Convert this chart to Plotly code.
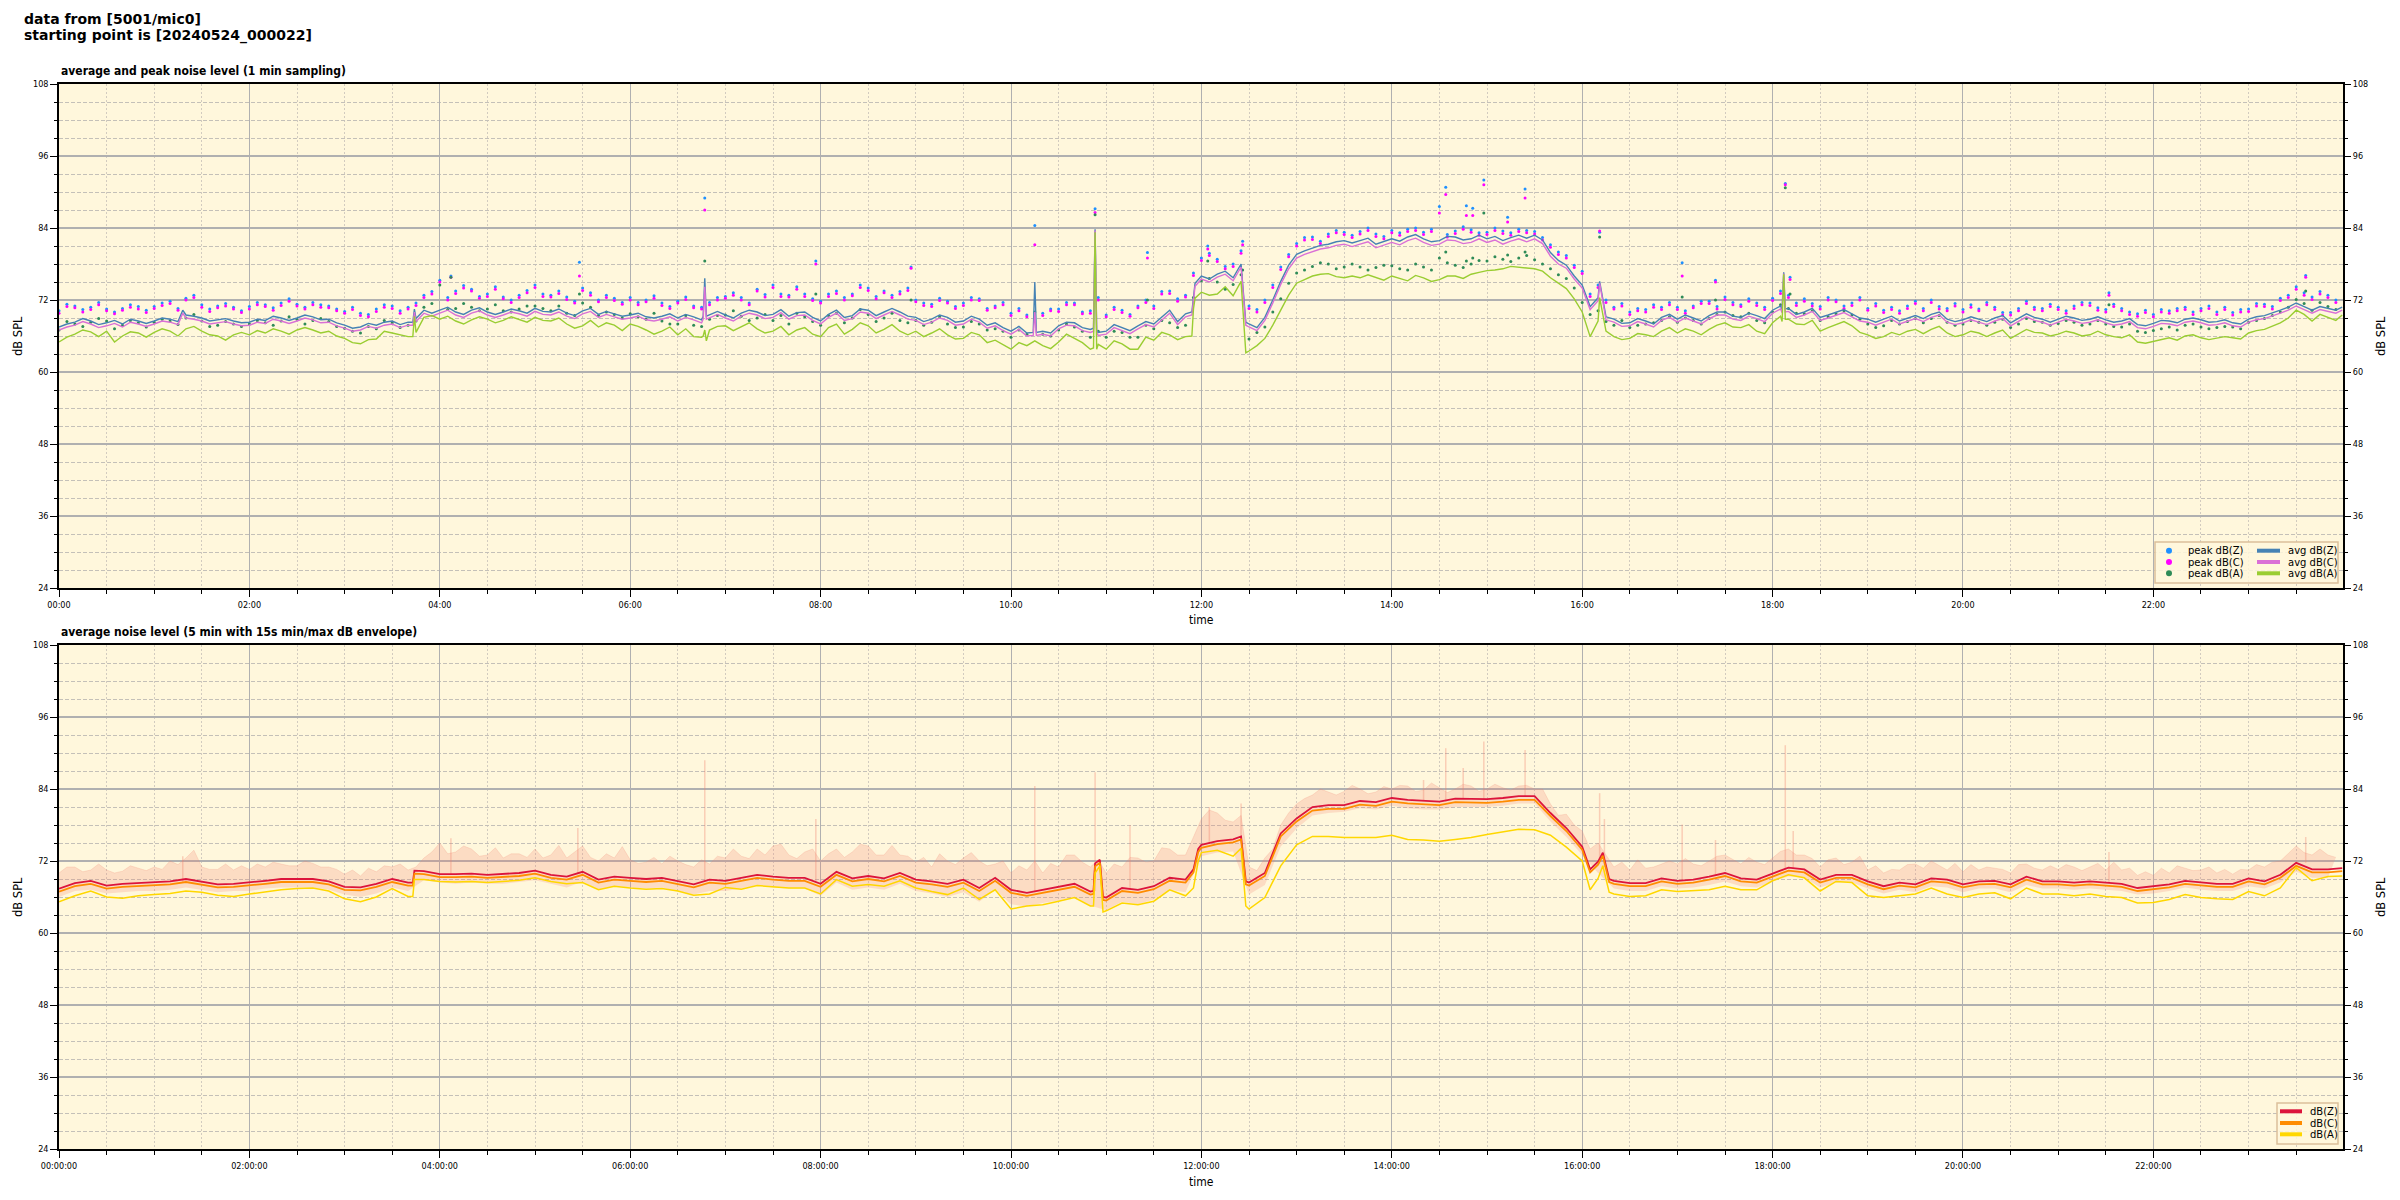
import plotly.graph_objects as go
from datetime import datetime, timedelta

T0 = datetime(2024, 5, 24)
STEP = 10  # minutes between the main readings; *_mid arrays sit 5 min after each

# ---------------- top panel: 1 min sampling (one row per hour) ----------------
avg_z = [
    67.5, 68.3, 68.5, 68.2, 68.0, 68.5,
    68.5, 68.8, 69.5, 69.0, 68.7, 68.5,
    68.3, 68.6, 69.0, 69.0, 69.2, 68.8,
    67.8, 67.5, 67.8, 68.5, 68.3, 70.3,
    70.3, 70.0, 70.3, 70.0, 70.0, 70.2,
    70.6, 70.0, 69.8, 70.2, 69.6, 69.7,
    69.5, 69.2, 69.3, 69.0, 69.2, 69.5,
    69.5, 69.8, 70.0, 69.6, 69.3, 70.0,
    68.5, 70.3, 69.4, 70.3, 70.0, 70.0,
    69.1, 68.8, 69.1, 68.5, 68.8, 68.2,
    66.8, 66.5, 66.8, 67.7, 68.2, 67.1,
    66.8, 67.4, 67.7, 68.0, 70.3, 69.7,
    76.0, 76.3, 75.7, 68.0, 69.1, 75.1,
    79.6, 80.7, 81.3, 81.9, 81.9, 81.3,
    82.2, 82.5, 82.2, 81.9, 82.5, 82.2,
    82.2, 81.9, 82.8, 82.8, 79.9, 77.8,
    74.5, 72.4, 68.8, 68.2, 68.5, 69.1,
    68.8, 69.0, 69.4, 70.0, 69.1, 69.4,
    70.3, 70.6, 70.0, 69.1, 70.0, 69.7,
    68.8, 68.8, 68.5, 69.4, 69.6, 68.8,
    68.7, 68.8, 69.0, 68.2, 69.7, 68.8,
    68.8, 69.0, 68.8, 68.7, 68.5, 67.9,
    68.1, 68.5, 68.8, 68.7, 68.4, 68.2,
    68.8, 69.4, 70.3, 71.5, 70.3, 70.6,
]
avg_z_mid = [
    68.0, 68.9, 67.9, 68.6, 68.8, 68.1,
    69.0, 68.4, 69.3, 68.5, 68.9, 68.2,
    68.8, 69.3, 68.6, 69.5, 68.7, 68.2,
    67.3, 68.1, 68.3, 67.9, 68.9, 69.8,
    70.8, 69.6, 70.7, 69.6, 70.5, 69.8,
    70.1, 70.5, 69.4, 70.6, 70.1, 69.3,
    69.8, 69.0, 69.7, 69.6, 68.7, 70.1,
    69.0, 70.3, 69.4, 70.4, 69.9, 69.1,
    69.6, 69.1, 70.5, 69.4, 70.6, 69.3,
    68.4, 69.5, 68.3, 69.3, 67.8, 67.4,
    67.6, 67.4, 66.5, 68.3, 67.4, 66.6,
    67.9, 66.9, 68.4, 69.2, 68.4, 72.5,
    75.5, 76.8, 76.6, 67.4, 72.0, 77.8,
    80.2, 81.1, 81.7, 81.5, 82.3, 81.8,
    81.8, 82.9, 81.7, 82.6, 82.0, 82.8,
    82.6, 82.4, 82.3, 82.0, 78.6, 76.0,
    70.9, 69.1, 68.1, 68.9, 68.0, 69.6,
    69.5, 68.5, 70.0, 69.3, 69.8, 68.9,
    71.0, 69.6, 70.6, 69.5, 70.4, 69.0,
    68.3, 69.3, 69.0, 68.9, 70.0, 68.4,
    69.2, 68.4, 69.4, 68.9, 69.1, 68.3,
    69.3, 68.6, 69.2, 68.3, 68.9, 67.7,
    68.6, 68.2, 69.0, 68.3, 68.7, 68.0,
    69.2, 69.8, 70.8, 70.9, 70.9, 70.3,
]
avg_c = [
    67.0, 67.8, 68.0, 67.7, 67.5, 68.0,
    68.0, 68.3, 69.0, 68.5, 68.2, 68.0,
    67.8, 68.1, 68.5, 68.5, 68.7, 68.3,
    67.3, 67.0, 67.3, 68.0, 67.8, 69.8,
    69.8, 69.5, 69.8, 69.5, 69.5, 69.7,
    70.1, 69.5, 69.3, 69.7, 69.1, 69.2,
    69.0, 68.7, 68.8, 68.5, 68.7, 69.0,
    69.0, 69.3, 69.5, 69.1, 68.8, 69.5,
    68.0, 69.8, 68.9, 69.8, 69.5, 69.5,
    68.6, 68.3, 68.6, 68.0, 68.3, 67.7,
    66.3, 66.0, 66.3, 67.2, 67.7, 66.6,
    66.3, 66.9, 67.2, 67.5, 69.8, 69.2,
    75.5, 75.8, 75.2, 67.5, 68.6, 74.6,
    79.0, 80.1, 80.7, 81.3, 81.3, 80.7,
    81.6, 81.9, 81.6, 81.3, 81.9, 81.6,
    81.6, 81.3, 82.2, 82.2, 79.3, 77.3,
    74.0, 71.9, 68.3, 67.7, 68.0, 68.6,
    68.3, 68.5, 68.9, 69.5, 68.6, 68.9,
    69.8, 70.1, 69.5, 68.6, 69.5, 69.2,
    68.3, 68.3, 68.0, 68.9, 69.1, 68.3,
    68.2, 68.3, 68.5, 67.7, 69.2, 68.3,
    68.3, 68.5, 68.3, 68.2, 68.0, 67.4,
    67.6, 68.0, 68.3, 68.2, 67.9, 67.7,
    68.3, 68.9, 69.8, 71.0, 69.8, 70.1,
]
avg_c_mid = [
    67.5, 68.4, 67.4, 68.1, 68.3, 67.6,
    68.5, 67.9, 68.8, 68.0, 68.4, 67.7,
    68.3, 68.8, 68.1, 69.0, 68.2, 67.7,
    66.8, 67.6, 67.8, 67.4, 68.4, 69.3,
    70.3, 69.1, 70.2, 69.1, 70.0, 69.3,
    69.6, 70.0, 68.9, 70.1, 69.6, 68.8,
    69.3, 68.5, 69.2, 69.1, 68.2, 69.6,
    68.5, 69.8, 68.9, 69.9, 69.4, 68.6,
    69.1, 68.6, 70.0, 68.9, 70.1, 68.8,
    67.9, 69.0, 67.8, 68.8, 67.3, 66.9,
    67.1, 66.9, 66.0, 67.8, 66.9, 66.1,
    67.4, 66.4, 67.9, 68.7, 67.9, 72.0,
    75.0, 76.3, 76.1, 66.9, 71.5, 77.2,
    79.6, 80.5, 81.1, 80.9, 81.7, 81.2,
    81.2, 82.3, 81.1, 82.0, 81.4, 82.2,
    82.0, 81.8, 81.7, 81.4, 78.0, 75.5,
    70.4, 68.6, 67.6, 68.4, 67.5, 69.1,
    69.0, 68.0, 69.5, 68.8, 69.3, 68.4,
    70.5, 69.1, 70.1, 69.0, 69.9, 68.5,
    67.8, 68.8, 68.5, 68.4, 69.5, 67.9,
    68.7, 67.9, 68.9, 68.4, 68.6, 67.8,
    68.8, 68.1, 68.7, 67.8, 68.4, 67.2,
    68.1, 67.7, 68.5, 67.8, 68.2, 67.5,
    68.7, 69.3, 70.3, 70.4, 70.4, 69.8,
]
avg_a = [
    65.0, 66.3, 66.7, 66.8, 66.0, 66.5,
    66.6, 66.8, 67.2, 66.8, 66.0, 66.2,
    66.2, 66.5, 66.8, 67.0, 67.0, 66.8,
    65.6, 64.7, 65.5, 66.5, 65.9, 69.1,
    68.8, 68.5, 68.7, 68.8, 68.6, 68.8,
    69.1, 68.5, 68.0, 67.7, 67.5, 67.8,
    68.0, 67.0, 66.8, 66.2, 65.9, 67.0,
    67.7, 67.5, 67.2, 66.8, 66.2, 67.4,
    65.9, 68.0, 67.1, 67.7, 67.1, 66.8,
    66.8, 66.5, 66.2, 65.6, 66.2, 65.3,
    63.8, 64.4, 64.4, 65.0, 65.6, 63.8,
    63.8, 64.7, 63.8, 65.3, 66.2, 65.9,
    73.3, 73.0, 72.7, 63.5, 65.6, 70.3,
    74.8, 76.0, 76.4, 75.7, 75.7, 75.7,
    76.0, 75.2, 75.7, 75.4, 76.0, 76.3,
    76.9, 77.2, 77.5, 77.2, 75.7, 73.9,
    70.0, 68.5, 65.9, 65.6, 66.2, 66.8,
    66.5, 66.8, 67.1, 68.2, 67.4, 66.8,
    68.2, 68.8, 67.9, 66.8, 67.9, 67.7,
    66.2, 65.9, 66.2, 67.1, 67.1, 66.5,
    66.2, 66.5, 66.5, 65.6, 67.1, 66.5,
    66.3, 66.5, 66.2, 66.2, 65.7, 65.0,
    65.1, 65.7, 66.0, 65.7, 65.6, 65.7,
    66.5, 67.1, 68.2, 70.3, 68.5, 69.1,
]
avg_a_mid = [
    65.8, 67.0, 65.9, 65.0, 66.7, 65.8,
    67.2, 66.0, 67.6, 66.2, 65.3, 66.6,
    66.9, 67.2, 66.3, 67.4, 66.5, 66.0,
    64.9, 65.4, 66.8, 66.2, 66.6, 69.4,
    69.3, 68.0, 69.2, 68.2, 69.2, 68.3,
    68.6, 69.0, 67.3, 68.6, 68.2, 66.9,
    67.6, 66.3, 67.5, 67.2, 65.8, 67.6,
    66.9, 68.2, 66.5, 67.6, 67.0, 66.3,
    67.4, 66.3, 68.2, 66.5, 67.9, 66.2,
    65.9, 67.2, 65.5, 66.6, 64.9, 64.5,
    64.9, 65.2, 63.9, 66.3, 64.9, 64.6,
    65.2, 63.8, 65.8, 66.6, 65.4, 70.5,
    72.8, 74.2, 74.0, 64.4, 67.8, 72.8,
    75.4, 76.3, 75.9, 76.0, 76.2, 75.3,
    75.6, 76.1, 75.1, 76.0, 75.6, 76.6,
    77.0, 77.6, 77.3, 76.8, 74.8, 72.2,
    65.9, 66.8, 65.4, 66.4, 65.9, 67.4,
    67.2, 66.2, 67.8, 67.5, 67.9, 66.4,
    69.3, 68.0, 68.6, 67.4, 68.4, 66.6,
    65.6, 66.6, 66.8, 66.4, 67.6, 65.9,
    66.8, 65.9, 67.0, 66.3, 66.6, 66.0,
    66.8, 66.0, 66.8, 65.9, 66.2, 64.8,
    65.5, 65.3, 66.2, 65.4, 65.9, 65.5,
    66.9, 67.6, 69.0, 69.6, 69.6, 68.6,
]
peak_z = [
    70.2, 71.0, 70.8, 70.5, 70.6, 70.9,
    70.9, 71.8, 72.3, 71.2, 71.0, 70.8,
    70.9, 71.2, 71.5, 71.3, 71.6, 71.0,
    70.1, 69.8, 70.5, 71.0, 70.8, 72.8,
    75.3, 73.5, 73.8, 73.0, 72.5, 72.8,
    74.5, 72.8, 72.5, 74.0, 72.0, 72.3,
    72.4, 72.0, 71.5, 71.8, 71.0, 71.6,
    72.6, 72.4, 73.8, 74.5, 72.8, 73.0,
    71.8, 73.5, 73.0, 74.0, 73.5, 73.4,
    72.0, 71.3, 71.8, 71.5, 72.2, 71.0,
    69.8, 69.5, 69.8, 70.5, 71.5, 70.2,
    69.5, 70.3, 71.0, 71.0, 73.5, 72.8,
    79.0, 78.8, 78.0, 71.0, 72.0, 77.5,
    81.4, 82.5, 83.0, 83.3, 83.4, 83.0,
    83.6, 83.8, 83.3, 83.6, 83.5, 83.7,
    83.3, 83.5, 83.8, 83.4, 81.2, 79.4,
    76.8, 74.5, 70.8, 70.0, 70.4, 70.8,
    70.8, 71.0, 71.8, 72.5, 71.2, 71.5,
    72.3, 72.8, 72.2, 70.9, 72.0, 71.5,
    70.6, 70.3, 70.2, 71.8, 72.0, 70.6,
    70.4, 70.5, 70.8, 69.9, 71.8, 70.6,
    70.8, 71.0, 71.5, 70.4, 70.6, 69.7,
    69.6, 70.2, 70.8, 70.6, 70.0, 69.9,
    70.5, 71.3, 72.3, 74.2, 72.5, 72.8,
]
peak_z_mid = [
    71.3, 70.4, 71.6, 70.0, 71.2, 70.3,
    71.5, 70.6, 72.8, 70.5, 71.4, 70.2,
    71.6, 70.7, 72.2, 70.8, 71.2, 70.5,
    70.8, 69.6, 71.2, 70.2, 71.5, 73.4,
    72.4, 74.4, 72.6, 74.2, 72.0, 73.6,
    73.0, 73.5, 71.8, 73.2, 72.8, 71.6,
    71.6, 72.7, 70.9, 72.5, 70.8, 72.4,
    73.2, 71.5, 72.9, 73.0, 74.2, 72.2,
    73.0, 72.4, 74.5, 72.6, 72.8, 74.0,
    71.5, 72.3, 70.9, 72.4, 70.6, 71.6,
    70.6, 71.4, 70.5, 71.6, 70.0, 72.4,
    70.8, 69.6, 72.0, 73.4, 72.2, 76.5,
    79.8, 77.6, 80.2, 70.4, 74.5, 79.6,
    82.4, 81.8, 83.6, 82.8, 84.0, 82.6,
    83.2, 84.0, 83.8, 82.9, 84.2, 83.2,
    84.0, 83.2, 83.6, 82.4, 80.0, 77.8,
    73.0, 72.0, 71.4, 70.6, 71.2, 71.6,
    70.2, 71.8, 70.9, 71.6, 72.2, 70.8,
    73.5, 71.5, 71.4, 72.4, 71.0, 72.4,
    71.4, 70.8, 71.0, 70.6, 70.9, 71.4,
    71.2, 71.6, 69.9, 70.6, 70.8, 71.3,
    70.2, 71.6, 70.7, 71.3, 70.0, 70.3,
    70.4, 70.6, 70.0, 71.0, 70.8, 70.4,
    71.4, 70.9, 72.8, 73.2, 73.4, 72.0,
]
peak_c = [
    69.8, 70.7, 70.4, 70.2, 70.3, 70.5,
    70.6, 71.4, 72.0, 70.8, 70.7, 70.5,
    70.5, 70.9, 71.1, 71.0, 71.2, 70.7,
    69.8, 69.4, 70.1, 70.6, 70.5, 72.4,
    75.0, 73.1, 73.5, 72.6, 72.2, 72.4,
    74.1, 72.5, 72.1, 73.6, 71.7, 71.9,
    72.0, 71.7, 71.1, 71.5, 70.7, 71.2,
    72.3, 72.0, 73.5, 74.1, 72.5, 72.6,
    71.5, 73.1, 72.7, 73.6, 73.2, 73.0,
    71.7, 70.9, 71.5, 71.1, 71.9, 70.7,
    69.4, 69.2, 69.4, 70.1, 71.2, 69.8,
    69.2, 69.9, 70.7, 70.6, 73.1, 72.5,
    78.6, 78.4, 77.6, 70.6, 71.6, 77.1,
    81.0, 82.1, 82.6, 82.9, 83.0, 82.6,
    83.2, 83.4, 82.9, 83.2, 83.1, 83.3,
    82.9, 83.1, 83.4, 83.0, 80.8, 79.0,
    76.4, 74.1, 70.5, 69.6, 70.0, 70.4,
    70.4, 70.7, 71.4, 72.1, 70.9, 71.1,
    71.9, 72.4, 71.8, 70.5, 71.7, 71.1,
    70.3, 69.9, 69.8, 71.4, 71.6, 70.2,
    70.0, 70.2, 70.4, 69.5, 71.4, 70.2,
    70.4, 70.6, 71.1, 70.0, 70.2, 69.3,
    69.2, 69.8, 70.4, 70.2, 69.6, 69.5,
    70.1, 70.9, 71.9, 73.8, 72.1, 72.4,
]
peak_c_mid = [
    70.9, 70.0, 71.2, 69.7, 70.8, 69.9,
    71.1, 70.3, 72.4, 70.1, 71.0, 69.9,
    71.2, 70.3, 71.8, 70.5, 70.8, 70.2,
    70.4, 69.2, 70.8, 69.8, 71.1, 73.0,
    72.0, 74.0, 72.3, 73.8, 71.6, 73.2,
    72.6, 73.1, 71.5, 72.8, 72.4, 71.3,
    71.2, 72.3, 70.6, 72.1, 70.5, 72.0,
    72.8, 71.2, 72.5, 72.6, 73.8, 71.9,
    72.6, 72.0, 74.1, 72.2, 72.4, 73.6,
    71.1, 71.9, 70.6, 72.0, 70.3, 71.2,
    70.2, 71.0, 70.2, 71.2, 69.7, 72.0,
    70.4, 69.3, 71.6, 73.0, 71.8, 76.1,
    79.4, 77.2, 79.8, 70.0, 74.1, 79.2,
    82.0, 81.4, 83.2, 82.4, 83.6, 82.2,
    82.8, 83.6, 83.4, 82.5, 83.8, 82.8,
    83.6, 82.8, 83.2, 82.0, 79.6, 77.4,
    72.6, 71.6, 71.0, 70.2, 70.8, 71.2,
    69.8, 71.4, 70.5, 71.2, 71.8, 70.4,
    73.1, 71.1, 71.0, 72.0, 70.6, 72.0,
    71.0, 70.4, 70.6, 70.2, 70.5, 71.0,
    70.8, 71.2, 69.5, 70.2, 70.4, 70.9,
    69.8, 71.2, 70.3, 70.9, 69.6, 69.9,
    70.0, 70.2, 69.6, 70.6, 70.4, 70.0,
    71.0, 70.5, 72.4, 72.8, 73.0, 71.6,
]
peak_a = [
    67.0, 68.0, 68.3, 68.5, 67.8, 68.2,
    68.3, 68.5, 69.0, 68.5, 67.8, 68.0,
    68.0, 68.2, 68.5, 68.8, 68.6, 68.4,
    67.3, 66.5, 67.2, 68.2, 67.8, 70.8,
    74.5, 70.6, 70.8, 70.5, 70.2, 70.5,
    71.0, 70.2, 69.8, 71.5, 69.4, 69.6,
    69.7, 68.8, 68.5, 68.0, 67.8, 68.8,
    69.5, 69.3, 69.0, 68.6, 68.0, 69.2,
    67.8, 69.8, 69.0, 69.6, 69.0, 68.6,
    68.6, 68.3, 68.0, 67.5, 68.0, 67.2,
    65.8, 66.3, 66.3, 67.0, 67.5, 65.8,
    65.8, 66.6, 65.8, 67.2, 68.2, 67.8,
    75.2, 75.0, 74.6, 65.5, 67.5, 72.2,
    76.5, 77.6, 78.0, 77.5, 77.5, 77.4,
    77.7, 77.0, 77.5, 77.2, 77.8, 78.0,
    78.5, 78.8, 79.0, 78.7, 77.2, 75.6,
    71.6, 70.2, 67.8, 67.4, 68.0, 68.6,
    68.3, 68.6, 68.9, 70.0, 69.2, 68.6,
    70.0, 70.6, 69.7, 68.6, 69.7, 69.5,
    68.0, 67.7, 68.0, 68.9, 68.9, 68.3,
    68.0, 68.3, 68.3, 67.4, 68.9, 68.3,
    68.1, 68.3, 68.0, 68.0, 67.5, 66.8,
    66.9, 67.5, 67.8, 67.5, 67.4, 67.5,
    68.3, 68.9, 70.0, 72.1, 70.3, 70.9,
]
peak_a_mid = [
    68.4, 67.6, 68.9, 67.2, 68.6, 67.5,
    68.8, 67.9, 69.6, 67.6, 68.4, 67.6,
    68.6, 67.8, 69.2, 68.0, 68.9, 67.6,
    66.8, 67.6, 68.6, 67.4, 68.5, 71.4,
    70.4, 71.4, 70.2, 71.2, 70.0, 71.0,
    70.6, 71.0, 69.4, 70.8, 70.0, 69.0,
    69.2, 69.8, 68.0, 69.4, 67.6, 69.4,
    70.2, 68.6, 69.6, 69.4, 69.8, 68.4,
    69.4, 68.2, 70.4, 68.4, 69.8, 68.2,
    67.8, 69.2, 67.4, 68.4, 67.0, 66.8,
    67.0, 67.4, 66.0, 68.0, 66.8, 66.8,
    66.8, 65.8, 67.8, 68.6, 67.4, 72.4,
    75.6, 73.8, 76.2, 66.6, 70.0, 74.8,
    77.0, 78.2, 77.2, 78.0, 77.0, 77.8,
    77.2, 78.0, 77.0, 78.2, 77.4, 78.6,
    79.2, 78.4, 79.4, 78.0, 76.2, 74.0,
    69.6, 68.4, 68.6, 67.8, 68.2, 69.2,
    69.0, 68.0, 69.6, 69.4, 69.8, 68.2,
    71.2, 69.8, 70.2, 69.2, 70.2, 68.8,
    67.4, 68.6, 68.4, 68.2, 69.4, 67.8,
    68.6, 67.8, 68.8, 68.0, 68.4, 67.8,
    68.6, 67.8, 68.6, 67.6, 68.0, 66.6,
    67.2, 67.0, 68.0, 67.2, 67.6, 67.2,
    68.6, 69.4, 70.8, 71.4, 71.6, 70.4,
]
# sharp events between the readings: minute of day -> dB
avg_z_extra = {78: 70.3, 223: 68.3, 224: 70.5, 406: 69.3, 407: 75.6, 408: 69.3,
               614: 66.6, 615: 75.0, 616: 66.6, 652: 67.3, 653: 83.8, 654: 67.0,
               714: 70.0, 716: 74.8, 745: 78.0, 748: 68.3, 965: 70.9, 971: 75.1,
               975: 69.2, 1086: 70.4, 1087: 76.6, 1088: 70.5, 1439: 70.8}
avg_c_extra = {78: 69.8, 223: 67.8, 224: 70.0, 406: 68.8, 407: 74.2, 408: 68.8,
               614: 66.1, 615: 70.0, 616: 66.1, 652: 66.8, 653: 83.6, 654: 66.5,
               714: 69.5, 716: 74.3, 745: 77.5, 748: 67.8, 965: 70.4, 971: 74.8,
               975: 68.7, 1086: 69.9, 1087: 76.4, 1088: 70.0, 1439: 70.3}
avg_a_extra = {223: 65.9, 224: 69.3, 406: 66.0, 407: 67.0, 408: 65.2, 652: 64.0,
               653: 83.3, 654: 63.8, 714: 66.0, 716: 72.3, 745: 75.1, 748: 63.2,
               965: 65.9, 971: 72.4, 975: 66.8, 1086: 68.4, 1087: 76.3, 1088: 68.8,
               1439: 69.5}
peak_min = [247, 328, 407, 477, 537, 615, 653, 686, 724, 746, 870, 874,
            887, 891, 898, 913, 924, 971, 1023, 1044, 1088, 1091, 1292, 1416]
peak_z_out = [76.0, 78.3, 89.0, 78.5, 77.5, 84.4, 87.2, 79.9, 81.0, 81.8, 87.6, 90.8,
              87.7, 87.3, 92.0, 85.8, 90.5, 83.3, 78.2, 75.3, 91.4, 75.8, 73.2, 76.1]
peak_c_out = [75.8, 76.0, 87.0, 78.0, 77.3, 81.2, 86.6, 79.0, 80.5, 81.2, 86.5, 89.6,
              86.1, 86.1, 91.2, 85.0, 89.0, 83.5, 76.0, 75.0, 91.2, 75.4, 72.8, 75.8]
peak_a_out = [75.8, 73.0, 78.5, 73.0, 72.0, 70.0, 86.2, 72.0, 78.5, 77.0, 79.0, 80.0,
              78.5, 79.0, 86.5, 79.5, 80.0, 82.5, 72.5, 72.0, 90.7, 73.0, 71.2, 73.5]

# ---------------- bottom panel: 5 min average + 15 s min/max envelope ----------------
db_z = [
    67.4, 68.3, 68.7, 67.9, 68.2, 68.3,
    68.4, 68.6, 69.0, 68.6, 68.1, 68.2,
    68.4, 68.7, 69.0, 69.0, 69.0, 68.6,
    67.7, 67.6, 68.2, 69.0, 68.4, 70.3,
    69.8, 69.8, 69.9, 69.7, 69.8, 70.0,
    70.4, 69.7, 69.4, 70.2, 68.9, 69.4,
    69.2, 69.0, 69.2, 68.7, 68.1, 68.9,
    68.7, 69.2, 69.7, 69.4, 69.2, 69.2,
    68.2, 70.2, 69.1, 69.5, 69.1, 70.0,
    68.9, 68.6, 68.2, 68.9, 67.5, 69.2,
    67.2, 66.7, 67.2, 67.6, 68.2, 66.9,
    65.9, 67.5, 67.2, 67.8, 69.2, 68.9,
    74.7, 75.3, 75.6, 68.4, 70.0, 76.6,
    79.1, 81.0, 81.3, 81.3, 82.0, 81.8,
    82.5, 82.2, 82.0, 81.9, 82.4, 82.3,
    82.3, 82.5, 82.8, 82.8, 80.0, 77.5,
    74.4, 71.9, 68.7, 68.3, 68.3, 69.1,
    68.7, 68.9, 69.4, 70.0, 69.1, 68.9,
    69.9, 70.9, 70.6, 68.9, 69.7, 69.7,
    68.6, 67.8, 68.4, 68.1, 69.1, 68.9,
    68.1, 68.6, 68.7, 68.1, 69.4, 68.6,
    68.6, 68.4, 68.6, 68.4, 68.2, 67.5,
    67.8, 68.1, 68.7, 68.4, 68.2, 68.2,
    69.1, 68.6, 69.7, 71.7, 70.6, 70.6,
]
db_c = [
    66.9, 67.8, 68.2, 67.4, 67.7, 67.8,
    67.9, 68.1, 68.5, 68.1, 67.6, 67.7,
    67.9, 68.2, 68.5, 68.5, 68.5, 68.1,
    67.2, 67.1, 67.7, 68.5, 67.9, 69.8,
    69.3, 69.3, 69.4, 69.2, 69.3, 69.5,
    69.9, 69.2, 68.9, 69.7, 68.4, 68.9,
    68.7, 68.5, 68.7, 68.2, 67.6, 68.4,
    68.2, 68.7, 69.2, 68.9, 68.7, 68.7,
    67.7, 69.7, 68.6, 69.0, 68.6, 69.5,
    68.4, 68.1, 67.7, 68.4, 67.0, 68.7,
    66.7, 66.2, 66.7, 67.1, 67.7, 66.4,
    65.4, 67.0, 66.7, 67.3, 68.7, 68.4,
    74.2, 74.8, 75.1, 67.9, 69.5, 76.1,
    78.6, 80.4, 80.7, 80.7, 81.4, 81.2,
    81.9, 81.6, 81.4, 81.3, 81.8, 81.7,
    81.7, 81.9, 82.2, 82.2, 79.5, 77.0,
    73.9, 71.4, 68.2, 67.8, 67.8, 68.6,
    68.2, 68.4, 68.9, 69.5, 68.6, 68.4,
    69.4, 70.4, 70.1, 68.4, 69.2, 69.2,
    68.1, 67.3, 67.9, 67.6, 68.6, 68.4,
    67.6, 68.1, 68.2, 67.6, 68.9, 68.1,
    68.1, 67.9, 68.1, 67.9, 67.7, 67.0,
    67.3, 67.6, 68.2, 67.9, 67.7, 67.7,
    68.6, 68.1, 69.2, 71.2, 70.1, 70.1,
]
db_a = [
    65.2, 66.2, 67.0, 66.0, 65.8, 66.2,
    66.4, 66.6, 67.0, 66.8, 66.3, 66.1,
    66.5, 66.9, 67.2, 67.4, 67.5, 67.0,
    65.7, 65.2, 66.0, 67.4, 66.1, 68.9,
    68.6, 68.5, 68.6, 68.4, 68.6, 68.8,
    69.2, 68.6, 68.2, 68.4, 67.2, 67.8,
    67.5, 67.3, 67.4, 67.0, 66.3, 66.5,
    67.6, 67.3, 67.9, 67.7, 67.5, 67.5,
    66.5, 68.9, 67.8, 68.1, 67.8, 68.7,
    67.5, 66.9, 66.4, 67.5, 65.6, 67.2,
    64.0, 64.5, 64.7, 65.3, 65.9, 64.5,
    63.7, 65.0, 64.7, 65.3, 67.2, 66.2,
    73.4, 73.8, 72.8, 64.0, 65.9, 71.2,
    74.7, 76.1, 76.1, 75.9, 75.9, 75.9,
    76.3, 75.6, 75.5, 75.3, 75.6, 75.9,
    76.4, 76.9, 77.3, 77.2, 76.3, 74.3,
    72.0, 69.1, 66.5, 66.1, 66.2, 67.2,
    66.9, 67.0, 67.2, 67.8, 67.2, 67.2,
    68.7, 69.7, 69.2, 67.0, 68.6, 68.4,
    66.2, 65.9, 66.2, 66.5, 67.5, 66.5,
    65.9, 66.5, 66.7, 65.7, 67.5, 66.5,
    66.5, 66.2, 66.5, 66.1, 65.9, 65.0,
    65.1, 65.6, 66.4, 65.9, 65.7, 65.6,
    66.9, 66.2, 67.5, 70.9, 68.7, 69.4,
]
env_max = [
    70.0, 71.0, 70.5, 70.5, 70.3, 70.8,
    71.0, 72.0, 72.5, 71.0, 70.6, 70.5,
    70.6, 71.0, 71.5, 71.2, 71.6, 71.0,
    69.8, 69.5, 70.2, 71.0, 70.5, 72.5,
    75.0, 73.5, 74.0, 73.0, 72.5, 73.2,
    74.0, 73.0, 72.5, 74.5, 72.0, 72.5,
    72.2, 71.8, 71.5, 72.0, 71.0, 71.5,
    72.5, 72.8, 74.0, 74.5, 73.0, 73.5,
    72.0, 74.0, 73.5, 74.5, 73.0, 73.0,
    71.8, 71.0, 72.0, 72.5, 72.0, 71.5,
    70.0, 70.5, 70.0, 71.0, 73.0, 71.0,
    70.0, 71.0, 72.5, 72.0, 74.0, 73.0,
    79.0, 80.0, 78.5, 71.0, 72.5, 78.0,
    81.5, 83.0, 83.5, 83.6, 84.0, 83.5,
    84.0, 84.5, 83.8, 84.2, 84.0, 84.5,
    84.0, 84.2, 84.5, 84.0, 81.5, 79.8,
    77.0, 75.0, 71.0, 70.5, 70.8, 71.5,
    71.5, 71.5, 72.0, 73.0, 71.5, 71.8,
    72.5, 74.0, 73.0, 71.0, 72.5, 71.8,
    70.5, 70.0, 70.5, 71.5, 72.0, 70.5,
    70.2, 70.5, 70.8, 70.0, 71.5, 70.5,
    70.6, 71.0, 71.0, 70.5, 70.5, 69.6,
    69.6, 70.0, 70.8, 70.5, 70.0, 69.8,
    70.5, 71.0, 72.0, 74.5, 73.0, 73.0,
]
env_max_mid = [
    71.0, 70.2, 71.5, 70.0, 71.2, 70.4,
    70.6, 71.4, 73.8, 70.6, 71.5, 71.2,
    71.5, 71.8, 71.2, 72.0, 71.0, 70.6,
    70.5, 70.8, 71.2, 71.5, 71.0, 73.5,
    73.2, 74.5, 72.8, 74.2, 73.2, 72.6,
    72.5, 74.6, 73.5, 72.6, 73.2, 74.4,
    71.6, 72.6, 72.8, 71.4, 72.2, 72.8,
    74.0, 72.4, 73.0, 74.8, 72.4, 74.0,
    73.2, 72.6, 74.8, 73.0, 74.6, 72.8,
    72.6, 73.2, 71.4, 73.4, 71.2, 72.0,
    71.2, 72.0, 71.6, 73.0, 71.8, 72.2,
    71.5, 72.6, 71.8, 74.2, 73.0, 76.0,
    80.5, 78.8, 79.6, 70.4, 74.0, 80.0,
    82.4, 84.0, 83.0, 84.6, 83.2, 84.4,
    84.6, 83.6, 85.0, 83.4, 84.8, 83.6,
    84.8, 83.8, 84.6, 84.0, 79.6, 78.0,
    74.0, 73.0, 71.8, 72.2, 71.0, 72.0,
    72.4, 71.2, 72.8, 72.2, 72.6, 71.4,
    73.6, 73.0, 72.4, 72.2, 71.4, 72.8,
    71.2, 70.6, 71.4, 70.8, 71.2, 71.6,
    71.4, 71.0, 70.6, 71.4, 70.8, 71.2,
    71.4, 70.4, 71.6, 71.8, 70.8, 70.2,
    70.8, 71.2, 70.4, 71.0, 70.6, 70.6,
    71.4, 71.8, 73.2, 73.4, 74.0, 72.6,
]
env_min = [
    66.0, 67.0, 67.2, 66.6, 66.8, 67.0,
    67.0, 67.2, 67.6, 67.2, 66.8, 67.0,
    67.0, 67.4, 67.6, 67.6, 67.6, 67.2,
    66.4, 66.0, 66.6, 67.6, 67.0, 68.8,
    68.4, 68.2, 68.4, 68.2, 68.2, 68.5,
    68.8, 68.2, 67.6, 68.6, 67.2, 67.8,
    67.6, 67.4, 67.6, 67.0, 66.4, 67.0,
    67.0, 67.4, 68.0, 67.6, 67.4, 67.4,
    66.2, 68.4, 67.2, 67.6, 67.2, 68.2,
    67.0, 66.6, 66.0, 66.8, 65.2, 67.2,
    64.8, 64.4, 65.0, 65.4, 66.0, 64.6,
    63.8, 65.2, 64.8, 65.6, 67.2, 66.8,
    72.8, 73.4, 73.6, 66.4, 68.0, 74.4,
    77.4, 79.6, 80.0, 80.2, 80.8, 80.6,
    81.2, 80.8, 80.6, 80.6, 81.0, 81.0,
    81.0, 81.2, 81.6, 81.6, 78.6, 76.0,
    73.0, 70.0, 67.4, 67.0, 67.0, 67.8,
    67.4, 67.6, 68.0, 68.6, 67.8, 67.6,
    68.6, 69.4, 69.2, 67.6, 68.4, 68.4,
    67.4, 66.6, 67.2, 66.8, 67.8, 67.6,
    66.8, 67.4, 67.4, 66.8, 68.0, 67.4,
    67.4, 67.2, 67.4, 67.2, 67.0, 66.4,
    66.6, 67.0, 67.6, 67.2, 67.0, 67.0,
    67.8, 67.4, 68.4, 70.2, 69.2, 69.2,
]
db_z_extra = {223: 68.4, 224: 70.4, 652: 67.0, 653: 71.6, 656: 72.2, 658: 66.0,
              715: 70.6, 718: 74.0, 745: 76.1, 748: 68.6, 965: 70.6, 973: 73.4,
              977: 69.0, 1439: 70.8}
db_c_extra = {223: 67.9, 224: 69.9, 652: 66.5, 653: 71.1, 656: 71.7, 658: 65.5,
              715: 70.1, 718: 73.5, 745: 75.6, 748: 68.1, 965: 70.1, 973: 72.9,
              977: 68.5, 1439: 70.3}
db_a_extra = {223: 66.1, 224: 68.9, 652: 64.5, 653: 70.0, 656: 71.2, 658: 63.5,
              715: 67.5, 718: 72.0, 745: 74.1, 748: 64.5, 965: 67.2, 973: 71.2,
              977: 66.8, 1439: 69.5}
# single 15 s maxima sticking out of the envelope: minute, low, high
spike_min = [78, 247, 327, 407, 477, 615, 653, 675, 725, 745, 860, 874,
             885, 898, 924, 971, 974, 1023, 1044, 1088, 1093, 1292, 1416]
spike_low = [68.5, 69.8, 69.8, 68.5, 68.5, 66.8, 67.0, 67.4, 74.8, 75.8, 82.0, 81.9,
             82.4, 82.3, 82.8, 71.9, 71.0, 68.8, 69.5, 70.5, 70.8, 68.4, 71.7]
spike_high = [72.8, 75.8, 77.5, 88.8, 79.0, 84.5, 86.8, 78.0, 81.0, 81.6, 85.5, 90.8,
              87.5, 91.9, 90.5, 83.3, 79.0, 78.1, 75.5, 91.3, 77.0, 73.5, 76.0]

BG = '#fff7dc'
GRID = '#b0b0b0'
TICKFONT = dict(family='DejaVu Sans Condensed, DejaVu Sans', size=9, color='black')
TITLEFONT = dict(family='DejaVu Sans Condensed, DejaVu Sans', size=12, color='black', weight='bold')

# the page body keeps an 8 px margin, so the figure is drawn 8 px in from the window corner
OFF = 8
FIG_W, FIG_H = 2400 - OFF, 1200 - 2 * OFF


def series(base, mid=None, extra=None):
    pts = {i * STEP: v for i, v in enumerate(base)}
    if mid:
        pts.update({i * STEP + STEP // 2: v for i, v in enumerate(mid)})
    if extra:
        pts.update(extra)
    mins = sorted(pts)
    return [T0 + timedelta(minutes=m) for m in mins], [pts[m] for m in mins]


def px(x):
    return (x - OFF) / FIG_W


def py(y):
    return 1 - (y - OFF) / FIG_H


def x_axis(anchor, fmt):
    return dict(domain=[px(59), px(2343)], anchor=anchor, type='date',
                range=[T0, T0 + timedelta(hours=23, minutes=59, seconds=30)],
                tick0=T0, dtick=7200000, tickformat=fmt,
                ticks='outside', ticklen=7, tickcolor='black', tickfont=TICKFONT,
                showgrid=True, gridcolor=GRID, gridwidth=1.2,
                minor=dict(dtick=1800000, tick0=T0, ticks='outside', ticklen=3.5, tickcolor='black',
                           showgrid=True, gridcolor='#d2cbbf', gridwidth=1, griddash='2px,2px'),
                showline=True, linecolor='black', linewidth=2, mirror=True,
                zeroline=False, automargin=False)


def y_axis(top, bottom, anchor, side='left', overlaying=None):
    d = dict(anchor=anchor, range=[24, 108], tick0=24, dtick=12, side=side,
             ticks='outside', ticklen=7, tickcolor='black', tickfont=TICKFONT,
             zeroline=False, automargin=False)
    if overlaying:
        d.update(overlaying=overlaying, showgrid=False, showline=False,
                 minor=dict(dtick=3, tick0=24, ticks='outside', ticklen=3.5,
                            tickcolor='black', showgrid=False))
    else:
        d.update(domain=[py(bottom), py(top)], showgrid=True, gridcolor=GRID, gridwidth=2,
                 showline=True, linecolor='black', linewidth=1.5, mirror=True,
                 minor=dict(dtick=3, tick0=24, ticks='outside', ticklen=3.5, tickcolor='black',
                            showgrid=True, gridcolor='#c4c0b8', gridwidth=1, griddash='4px,2px'))
    return d


fig = go.Figure()

# top panel: peak dots, then average lines
for vals, mid, out, color in [(peak_z, peak_z_mid, peak_z_out, '#1e90ff'),
                              (peak_c, peak_c_mid, peak_c_out, '#ff00ff'),
                              (peak_a, peak_a_mid, peak_a_out, '#2e8b57')]:
    x, y = series(vals, mid, dict(zip(peak_min, out)))
    fig.add_trace(go.Scatter(x=x, y=y, mode='markers', xaxis='x', yaxis='y',
                             marker=dict(size=3, color=color), showlegend=False))

for vals, mid, extra, color, ax in [(avg_z, avg_z_mid, avg_z_extra, '#4682b4', 'y'),
                                    (avg_c, avg_c_mid, avg_c_extra, '#da70d6', 'y'),
                                    (avg_a, avg_a_mid, avg_a_extra, '#9acd32', 'y3')]:
    x, y = series(vals, mid, extra)
    fig.add_trace(go.Scatter(x=x, y=y, mode='lines', xaxis='x', yaxis=ax,
                             line=dict(color=color, width=1.4), showlegend=False))

# bottom panel: min/max envelope
x, y = series(env_min)
fig.add_trace(go.Scatter(x=x, y=y, mode='lines', xaxis='x2', yaxis='y2',
                         line=dict(width=0, color='rgba(0,0,0,0)'), showlegend=False))
x, y = series(env_max, env_max_mid)
fig.add_trace(go.Scatter(x=x, y=y, mode='lines', xaxis='x2', yaxis='y2', fill='tonexty',
                         fillcolor='rgba(240,128,110,0.22)',
                         line=dict(width=0.8, color='rgba(240,128,110,0.25)'), showlegend=False))
sx, sy = [], []
for m, lo, hi in zip(spike_min, spike_low, spike_high):
    t = T0 + timedelta(minutes=m)
    sx += [t, t, None]
    sy += [lo, hi, None]
fig.add_trace(go.Scatter(x=sx, y=sy, mode='lines', xaxis='x2', yaxis='y2',
                         line=dict(color='rgba(240,128,110,0.35)', width=1.5), showlegend=False))

for vals, extra, color, width, ax in [(db_z, db_z_extra, '#dc143c', 1.8, 'y2'),
                                      (db_c, db_c_extra, '#ff8c00', 1.8, 'y2'),
                                      (db_a, db_a_extra, '#ffd700', 1.5, 'y4')]:
    x, y = series(vals, None, extra)
    fig.add_trace(go.Scatter(x=x, y=y, mode='lines', xaxis='x2', yaxis=ax,
                             line=dict(color=color, width=width), showlegend=False))

# hand-drawn legends (matplotlib style boxes)
shapes = []
annotations = []
LEGFONT = dict(family='DejaVu Sans', size=10, color='black')


def legend_box(x0, x1, y0, y1):
    shapes.append(dict(type='rect', xref='paper', yref='paper', x0=px(x0), x1=px(x1),
                       y0=py(y1), y1=py(y0), line=dict(color='#dcc09a', width=1.5),
                       fillcolor='rgba(255,247,220,0.85)', layer='above'))


legend_box(2155, 2338, 542, 583)
rows1 = [550.7, 562.0, 573.3]
for yy, c, lab in zip(rows1, ['#1e90ff', '#ff00ff', '#2e8b57'], ['peak dB(Z)', 'peak dB(C)', 'peak dB(A)']):
    shapes.append(dict(type='circle', xref='paper', yref='paper', x0=px(2166), x1=px(2172),
                       y0=py(yy + 3), y1=py(yy - 3), fillcolor=c, line=dict(width=0), layer='above'))
    annotations.append(dict(x=px(2186), y=py(yy), xref='paper', yref='paper', text=lab,
                            showarrow=False, xanchor='left', yanchor='middle', font=LEGFONT))
for yy, c, lab in zip(rows1, ['#4682b4', '#da70d6', '#9acd32'], ['avg dB(Z)', 'avg dB(C)', 'avg dB(A)']):
    shapes.append(dict(type='line', xref='paper', yref='paper', x0=px(2257), x1=px(2280),
                       y0=py(yy), y1=py(yy), line=dict(color=c, width=4), layer='above'))
    annotations.append(dict(x=px(2286), y=py(yy), xref='paper', yref='paper', text=lab,
                            showarrow=False, xanchor='left', yanchor='middle', font=LEGFONT))

legend_box(2277, 2338, 1103, 1144)
for yy, c, lab in zip([1111.3, 1123.0, 1134.3], ['#dc143c', '#ff8c00', '#ffd700'], ['dB(Z)', 'dB(C)', 'dB(A)']):
    shapes.append(dict(type='line', xref='paper', yref='paper', x0=px(2280), x1=px(2302),
                       y0=py(yy), y1=py(yy), line=dict(color=c, width=4), layer='above'))
    annotations.append(dict(x=px(2308), y=py(yy), xref='paper', yref='paper', text=lab,
                            showarrow=False, xanchor='left', yanchor='middle', font=LEGFONT))


def text(x, y, s, font, xanchor='left', angle=0):
    annotations.append(dict(x=px(x), y=py(y), xref='paper', yref='paper', text=s, showarrow=False,
                            xanchor=xanchor, yanchor='middle', font=font, textangle=angle))


BIG = dict(family='DejaVu Sans', size=14, color='black', weight='bold')
text(22, 19, 'data from [5001/mic0]', BIG)
text(22, 35, 'starting point is [20240524_000022]', BIG)
text(59, 71, 'average and peak noise level (1 min sampling)', TITLEFONT)
text(59, 632, 'average noise level (5 min with 15s min/max dB envelope)', TITLEFONT)
AXFONT = dict(family='DejaVu Sans Condensed, DejaVu Sans', size=12, color='black')
text(1201, 620, 'time', AXFONT, 'center')
text(1201, 1182, 'time', AXFONT, 'center')
YLFONT = dict(family='DejaVu Sans', size=11.5, color='black')
for yc in [336, 897]:
    text(18, yc, 'dB SPL', YLFONT, 'center', -90)
    text(2381, yc, 'dB SPL', YLFONT, 'center', -90)

fig.update_layout(
    width=FIG_W, height=FIG_H, autosize=False,
    margin=dict(l=0, r=0, t=0, b=0),
    paper_bgcolor='white', plot_bgcolor=BG,
    showlegend=False,
    xaxis=x_axis('y', '%H:%M'),
    yaxis=y_axis(84, 588, 'x'),
    yaxis3=y_axis(84, 588, 'x', side='right', overlaying='y'),
    xaxis2=x_axis('y2', '%H:%M:%S'),
    yaxis2=y_axis(645, 1149, 'x2'),
    yaxis4=y_axis(645, 1149, 'x2', side='right', overlaying='y2'),
    shapes=shapes,
    annotations=annotations,
)

fig.write_html("out.html")
